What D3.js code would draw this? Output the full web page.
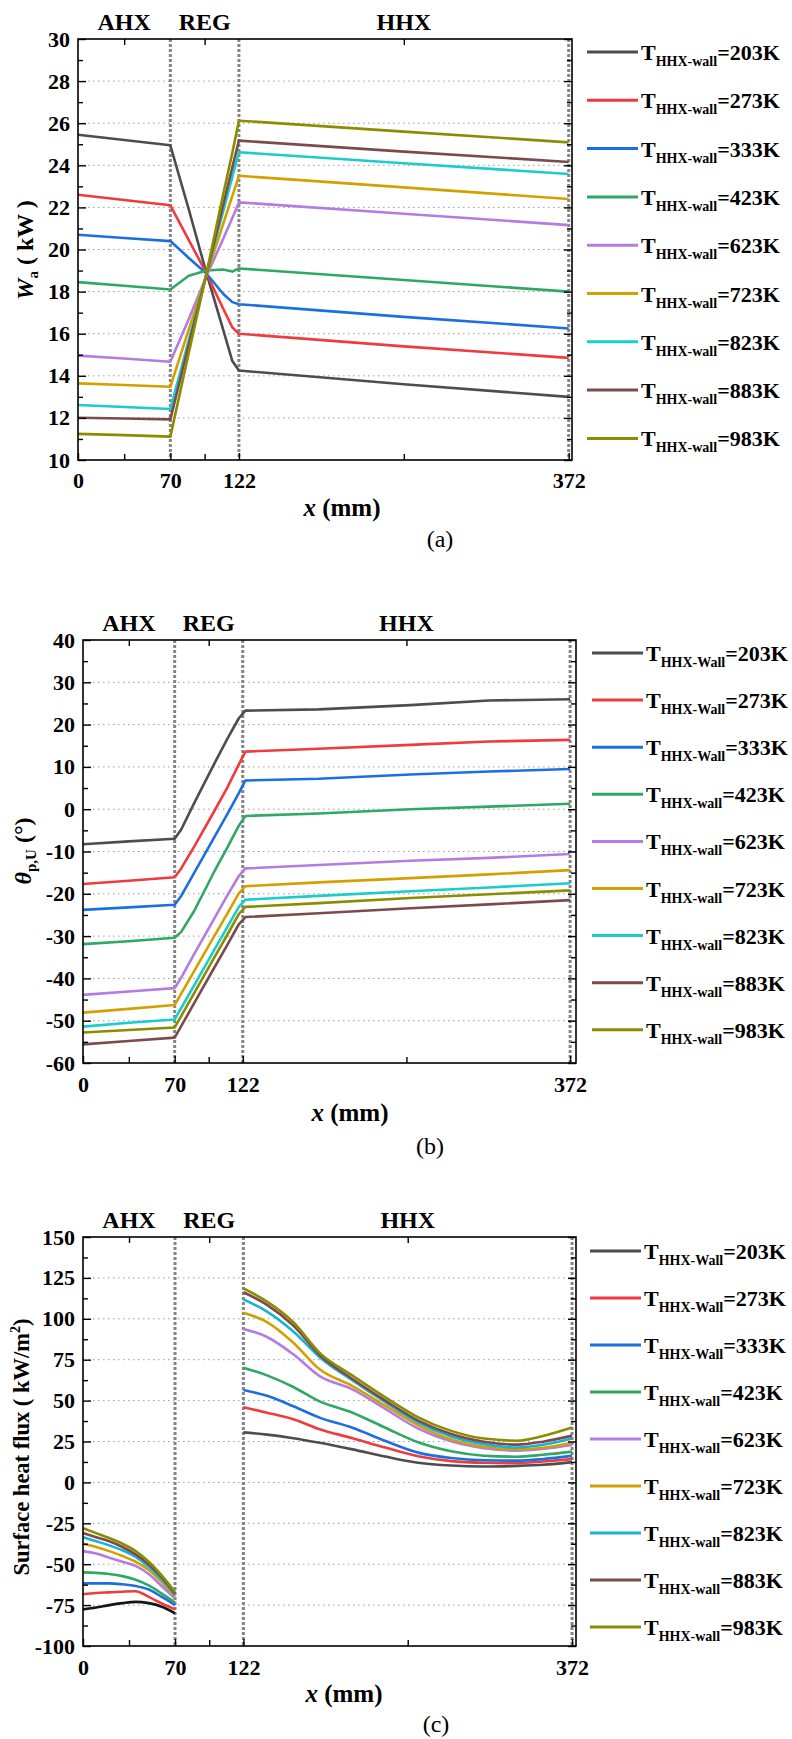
<!DOCTYPE html>
<html>
<head>
<meta charset="utf-8">
<script src="https://cdn.jsdelivr.net/npm/d3@7"></script>
<style>
  body { margin: 0; background: #fff; }
  svg { display: block; }
</style>
</head>
<body>
<script>
// wall temperature cases, shared by the three panels
const temps = ["203K", "273K", "333K", "423K", "623K", "723K", "823K", "883K", "983K"];
const lineColors = ["#4d4d4d", "#f03b3e", "#1c6fe0", "#2fa866", "#b47be2", "#d4a000", "#1acccc", "#7b4b4b", "#8c8c00"];
const subA = ["HHX-wall", "HHX-wall", "HHX-wall", "HHX-wall", "HHX-wall", "HHX-wall", "HHX-wall", "HHX-wall", "HHX-wall"];
const subBC = ["HHX-Wall", "HHX-Wall", "HHX-Wall", "HHX-wall", "HHX-wall", "HHX-wall", "HHX-wall", "HHX-wall", "HHX-wall"];

const xTicks = [0, 70, 122, 372];
const xMinorTicks = [35, 96, 247];
const regionNames = ["AHX", "REG", "HHX"];
const regionCenters = [35, 96, 247];
const regionBounds = [70, 122, 372];

// (a) acoustic power W_a (kW)
const aX = [0, 35, 70, 84, 97.5, 110, 117, 122, 247, 372];
const aW = [
  [25.45, 25.2, 24.95, 21.9, 18.85, 16.2, 14.7, 14.25, 13.6, 13.0],
  [22.6, 22.35, 22.1, 20.45, 18.85, 17.2, 16.3, 16.0, 15.4, 14.85],
  [20.7, 20.55, 20.4, 19.6, 18.85, 17.9, 17.5, 17.4, 16.8, 16.25],
  [18.45, 18.28, 18.1, 18.75, 19.0, 19.05, 18.95, 19.1, 18.55, 18.0],
  [14.96, 14.82, 14.67, 16.7, 18.75, 20.5, 21.5, 22.24, 21.7, 21.16],
  [13.64, 13.56, 13.48, 16.2, 18.8, 21.2, 22.55, 23.5, 22.95, 22.4],
  [12.61, 12.52, 12.42, 15.7, 18.85, 21.8, 23.45, 24.62, 24.1, 23.59],
  [12.01, 11.97, 11.93, 15.5, 18.85, 22.1, 23.9, 25.17, 24.65, 24.16],
  [11.24, 11.18, 11.11, 15.1, 18.9, 22.6, 24.6, 26.12, 25.6, 25.09]
];

// (b) phase angle theta_p,U (deg)
const bX = [0, 35, 70, 75, 85, 100, 110, 119, 124, 180, 250, 310, 372];
const bTheta = [
  [-8.3, -7.6, -7.0, -4.8, 1.5, 10.6, 16.5, 21.5, 23.3, 23.6, 24.6, 25.7, 26.0],
  [-17.7, -16.9, -16.1, -14.0, -8.8, -0.6, 5.0, 10.6, 13.6, 14.3, 15.2, 16.0, 16.4],
  [-23.8, -23.2, -22.6, -20.5, -15.0, -6.8, -1.3, 3.8, 6.8, 7.2, 8.2, 8.9, 9.5],
  [-31.9, -31.2, -30.4, -29.0, -24.0, -14.9, -9.2, -3.9, -1.6, -1.0, 0.0, 0.6, 1.3],
  [-43.9, -43.1, -42.3, -39.8, -34.2, -26.0, -20.5, -15.8, -14.0, -13.2, -12.2, -11.5, -10.6],
  [-48.1, -47.2, -46.3, -43.6, -38.2, -30.1, -24.8, -19.9, -18.2, -17.3, -16.3, -15.4, -14.4],
  [-51.4, -50.5, -49.7, -47.0, -41.6, -33.4, -28.0, -23.1, -21.4, -20.5, -19.4, -18.5, -17.5],
  [-55.6, -54.8, -54.0, -51.3, -45.8, -37.6, -32.2, -27.2, -25.5, -24.6, -23.4, -22.5, -21.5],
  [-52.8, -52.2, -51.6, -48.9, -43.4, -35.2, -29.8, -24.8, -23.1, -22.2, -21.0, -20.1, -19.2]
];

// (c) surface heat flux (kW/m2), AHX part and HHX part
const cXahx = [0, 10, 20, 30, 40, 50, 60, 70];
const cQahx = [
  [-77.6, -76.5, -75.0, -73.8, -73.0, -73.8, -76.0, -80.0],
  [-68.4, -67.6, -67.2, -66.8, -66.5, -70.0, -74.0, -77.6],
  [-61.7, -61.7, -61.7, -62.3, -63.3, -65.5, -70.0, -75.0],
  [-55.0, -55.3, -56.0, -57.3, -59.5, -63.0, -68.0, -73.5],
  [-42.0, -43.5, -46.0, -48.5, -51.0, -56.0, -63.5, -71.0],
  [-37.5, -39.5, -42.0, -45.0, -48.5, -53.5, -61.0, -70.0],
  [-33.5, -36.0, -38.5, -41.5, -45.5, -51.5, -59.5, -69.0],
  [-31.0, -33.5, -36.0, -39.5, -44.0, -50.0, -58.0, -68.0],
  [-28.0, -31.0, -34.0, -37.5, -42.0, -48.5, -57.0, -67.0]
];
const cXhhx = [122, 140, 160, 180, 205, 230, 255, 280, 305, 330, 350, 372];
const cQhhx = [
  [30.6, 29.2, 27.0, 24.2, 20.2, 15.8, 12.0, 10.3, 9.7, 10.1, 10.8, 12.4],
  [45.9, 42.6, 38.6, 32.5, 27.0, 21.3, 16.0, 13.0, 12.0, 11.8, 12.8, 14.2],
  [56.5, 52.9, 46.5, 39.6, 33.4, 25.3, 18.2, 14.9, 13.5, 13.3, 14.3, 16.2],
  [70.1, 65.4, 58.3, 49.5, 42.6, 33.4, 24.5, 19.0, 16.3, 15.7, 16.9, 18.8],
  [93.8, 88.9, 78.3, 65.0, 56.9, 44.9, 32.9, 25.1, 20.9, 19.4, 20.5, 22.9],
  [103.7, 98.0, 85.4, 69.1, 58.9, 46.9, 34.9, 26.3, 21.8, 20.2, 21.2, 24.3],
  [111.9, 104.4, 92.2, 76.5, 62.3, 49.0, 36.6, 28.1, 23.4, 21.3, 23.0, 26.8],
  [116.2, 108.5, 95.8, 77.9, 63.2, 50.0, 37.8, 29.6, 24.9, 23.1, 24.9, 28.6],
  [118.6, 110.5, 97.9, 79.2, 65.3, 52.0, 39.8, 31.5, 26.8, 25.5, 28.4, 33.5]
];

const FONT = "'Liberation Serif', 'Times New Roman', serif";

const svg = d3.select("body").append("svg")
  .attr("width", 792)
  .attr("height", 1739)
  .attr("font-family", FONT);

function drawPanel(p) {
  const x = d3.scaleLinear().domain([0, p.xMax]).range([p.left, p.right]);
  const y = d3.scaleLinear().domain(p.yDomain).range([p.bottom, p.top]);
  const g = svg.append("g");

  // dotted grid at major y ticks
  g.append("g").selectAll("line")
    .data(p.yTicks.slice(1, -1))
    .join("line")
    .attr("x1", p.left).attr("x2", p.right)
    .attr("y1", d => y(d)).attr("y2", d => y(d))
    .attr("stroke", "#9c9c9c")
    .attr("stroke-width", 1)
    .attr("stroke-dasharray", "1.5,3.5");

  // region boundaries
  g.append("g").selectAll("line")
    .data(regionBounds)
    .join("line")
    .attr("x1", d => x(d)).attr("x2", d => x(d))
    .attr("y1", p.top).attr("y2", p.bottom)
    .attr("stroke", "#858585")
    .attr("stroke-width", 3)
    .attr("stroke-dasharray", "3,2");

  // series
  const line = d3.line().x(d => x(d[0])).y(d => y(d[1])).curve(p.curve);
  p.segments.forEach(seg => {
    seg.values.forEach((vals, i) => {
      g.append("path")
        .datum(seg.x.map((xv, j) => [xv, vals[j]]))
        .attr("d", line)
        .attr("fill", "none")
        .attr("stroke", (seg.colors || p.colors)[i])
        .attr("stroke-width", 2.6)
        .attr("stroke-linejoin", "round");
    });
  });

  // axes, ticks pointing inward
  const styleAxis = sel => {
    sel.select(".domain").remove();
    sel.selectAll("line").attr("stroke", "#000").attr("stroke-width", 1.4);
    sel.selectAll("text")
      .attr("font-family", FONT)
      .attr("font-size", 22)
      .attr("font-weight", "bold")
      .attr("fill", "#000");
  };
  const fmt = d => String(d);

  g.append("g").attr("transform", `translate(${p.left},0)`)
    .call(d3.axisLeft(y).tickValues(p.yTicks).tickSize(-8).tickPadding(8).tickFormat(fmt))
    .call(styleAxis);
  g.append("g").attr("transform", `translate(${p.left},0)`)
    .call(d3.axisLeft(y).tickValues(p.yMinor).tickSize(-5).tickFormat(""))
    .call(styleAxis);
  g.append("g").attr("transform", `translate(${p.right},0)`)
    .call(d3.axisRight(y).tickValues(p.yTicks).tickSize(-8).tickFormat(""))
    .call(styleAxis);
  g.append("g").attr("transform", `translate(${p.right},0)`)
    .call(d3.axisRight(y).tickValues(p.yMinor).tickSize(-5).tickFormat(""))
    .call(styleAxis);
  g.append("g").attr("transform", `translate(0,${p.bottom})`)
    .call(d3.axisBottom(x).tickValues(xTicks).tickSize(-7).tickPadding(p.xPad).tickFormat(fmt))
    .call(styleAxis);
  g.append("g").attr("transform", `translate(0,${p.bottom})`)
    .call(d3.axisBottom(x).tickValues(xMinorTicks).tickSize(-6).tickFormat(""))
    .call(styleAxis);
  g.append("g").attr("transform", `translate(0,${p.top})`)
    .call(d3.axisTop(x).tickValues(xMinorTicks).tickSize(-6).tickFormat(""))
    .call(styleAxis);

  g.append("rect")
    .attr("x", p.left).attr("y", p.top)
    .attr("width", p.right - p.left).attr("height", p.bottom - p.top)
    .attr("fill", "none").attr("stroke", "#000").attr("stroke-width", 1.6);

  // region names above the frame
  g.append("g").selectAll("text")
    .data(regionNames)
    .join("text")
    .attr("x", (d, i) => x(regionCenters[i]))
    .attr("y", p.top - 9)
    .attr("text-anchor", "middle")
    .attr("font-size", 24)
    .attr("font-weight", "bold")
    .text(d => d);

  // y title
  const yt = g.append("text")
    .attr("transform", `translate(${p.yTitleX},${p.yTitleY}) rotate(-90)`)
    .attr("text-anchor", "middle")
    .attr("font-size", p.yTitleSize)
    .attr("font-weight", "bold");
  p.yTitle(yt);

  // x title
  const xt = g.append("text")
    .attr("x", p.xTitleX).attr("y", p.xTitleY)
    .attr("text-anchor", "middle")
    .attr("font-size", 25)
    .attr("font-weight", "bold");
  xt.append("tspan").attr("font-style", "italic").text("x");
  xt.append("tspan").text(" (mm)");

  g.append("text")
    .attr("x", p.capX).attr("y", p.capY)
    .attr("text-anchor", "middle")
    .attr("font-size", 24)
    .text(p.caption);

  // legend
  const leg = g.append("g");
  temps.forEach((t, i) => {
    const ly = p.legTop + i * p.legStep;
    leg.append("line")
      .attr("x1", p.legX).attr("x2", p.legX + 51)
      .attr("y1", ly).attr("y2", ly)
      .attr("stroke", p.colors[i]).attr("stroke-width", 3);
    const tx = leg.append("text")
      .attr("x", p.legX + 54).attr("y", ly + 8)
      .attr("font-size", 22)
      .attr("font-weight", "bold");
    tx.append("tspan").text("T");
    tx.append("tspan").attr("dy", 6).attr("font-size", 14).text(p.subs[i]);
    tx.append("tspan").attr("dy", -6).text("=" + t);
  });
}

drawPanel({
  left: 78, right: 572, top: 39, bottom: 460,
  xMax: 374.5, yDomain: [10, 30],
  yTicks: d3.range(10, 31, 2), yMinor: d3.range(11, 30, 2),
  curve: d3.curveLinear,
  colors: lineColors,
  segments: [{ x: aX, values: aW }],
  xPad: 12,
  yTitleX: 33, yTitleY: 250, yTitleSize: 24,
  yTitle: t => {
    t.append("tspan").attr("font-style", "italic").text("W");
    t.append("tspan").attr("dy", 5).attr("font-size", 15).text("a");
    t.append("tspan").attr("dy", -5).text(" ( kW )");
  },
  xTitleX: 342, xTitleY: 516,
  caption: "(a)", capX: 440, capY: 547,
  legX: 587, legTop: 52, legStep: 48.3, subs: subA
});

drawPanel({
  left: 83, right: 576, top: 640, bottom: 1063,
  xMax: 376.5, yDomain: [-60, 40],
  yTicks: d3.range(-60, 41, 10), yMinor: d3.range(-55, 40, 10),
  curve: d3.curveLinear,
  colors: lineColors,
  segments: [{ x: bX, values: bTheta }],
  xPad: 13,
  yTitleX: 31, yTitleY: 851, yTitleSize: 24,
  yTitle: t => {
    t.append("tspan").attr("font-style", "italic").text("θ");
    t.append("tspan").attr("dy", 5).attr("font-size", 15).text("p,U");
    t.append("tspan").attr("dy", -5).text(" (°)");
  },
  xTitleX: 350, xTitleY: 1121,
  caption: "(b)", capX: 430, capY: 1154,
  legX: 592, legTop: 653, legStep: 47.1, subs: subBC
});

const cColors = lineColors.map((c, i) => i === 6 ? "#17b2d8" : c);
drawPanel({
  left: 83, right: 576, top: 1237, bottom: 1646,
  xMax: 375, yDomain: [-100, 150],
  yTicks: d3.range(-100, 151, 25), yMinor: d3.range(-87.5, 150, 25),
  curve: d3.curveMonotoneX,
  colors: cColors,
  segments: [
    { x: cXahx, values: cQahx, colors: cColors.map((c, i) => i === 0 ? "#141414" : c) },
    { x: cXhhx, values: cQhhx }
  ],
  xPad: 13,
  yTitleX: 29, yTitleY: 1447, yTitleSize: 22.5,
  yTitle: t => {
    t.append("tspan").text("Surface heat flux ( kW/m");
    t.append("tspan").attr("dy", -9).attr("font-size", 14).text("2");
    t.append("tspan").attr("dy", 9).text(")");
  },
  xTitleX: 344, xTitleY: 1702,
  caption: "(c)", capX: 436, capY: 1732,
  legX: 590, legTop: 1251, legStep: 47, subs: subBC
});
</script>
</body>
</html>
